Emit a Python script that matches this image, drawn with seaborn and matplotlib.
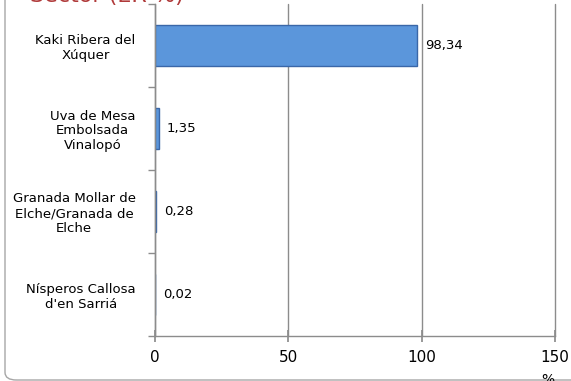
import numpy as np
import pandas as pd
import matplotlib
matplotlib.use('Agg')
import matplotlib.pyplot as plt
import seaborn as sns
from matplotlib.patches import FancyBboxPatch

# data
products = ['Kaki Ribera del\nXúquer',
            'Uva de Mesa\nEmbolsada\nVinalopó',
            'Granada Mollar de\nElche/Granada de\nElche',
            "Nísperos Callosa\nd'en Sarriá"]
shares = [98.34, 1.35, 0.28, 0.02]
share_labels = ['98,34', '1,35', '0,28', '0,02']
x_ticks = [0, 50, 100, 150]

df = pd.DataFrame({'producto': products, 'pct': shares})

sns.set_theme(style='white')
plt.rcParams['font.family'] = ['DejaVu Sans']

BLUE = '#5B96DB'; EDGE = '#3A67A8'; GRID = '#8C8C8C'; RED = '#B03A3A'

fig = plt.figure(figsize=(5.71, 3.81), dpi=100)
ax = fig.add_axes([155 / 571, 1 - 336 / 381, 400 / 571, 332 / 381])

sns.barplot(data=df, x='pct', y='producto', orient='h', color=BLUE,
            width=0.5, saturation=1, edgecolor=EDGE, linewidth=1.0, ax=ax)

ax.set_xlim(0, 150)
ax.set_ylim(3.5, -0.5)
ax.set_xticks(x_ticks)
ax.set_xticklabels([str(t) for t in x_ticks], fontsize=11, color='black')
ax.set_xlabel('')
ax.set_ylabel('')

# category labels centred, boundaries as minor ticks
ax.set_yticks(range(len(products)))
ax.set_yticklabels(products, fontsize=9.5, color='black', multialignment='center')
ax.tick_params(axis='y', which='major', length=0, pad=14)
ax.set_yticks(np.arange(-0.5, len(products), 1.0), minor=True)
ax.tick_params(axis='y', which='minor', length=5, color=GRID, direction='out', left=True)
ax.tick_params(axis='x', length=8, color=GRID, direction='inout', bottom=True, pad=6)

ax.grid(axis='x', color=GRID, linewidth=1.0)
for gl in ax.get_xgridlines():
    gl.set_clip_on(False)
ax.set_axisbelow(True)
for s in ['top', 'right']:
    ax.spines[s].set_visible(False)
for s in ['left', 'bottom']:
    ax.spines[s].set_color(GRID)
    ax.spines[s].set_linewidth(1.0)

for i, (v, lab) in enumerate(zip(shares, share_labels)):
    ax.text(v + 3, i, lab, va='center', ha='left', fontsize=9.5, color='black')

# chart frame and cropped title / axis label
frame = FancyBboxPatch((5 / 571, 1 / 381), 1.1, 1.1,
                       boxstyle='round,pad=0,rounding_size=0.02',
                       transform=fig.transFigure, facecolor='none',
                       edgecolor='#A6A6A6', linewidth=1.0, clip_on=False)
fig.patches.append(frame)
fig.text(30 / 571, 1 - 2 / 381, 'Sector (ER %)', fontsize=16, color=RED,
         va='baseline', ha='left')
fig.text(548 / 571, 1 - 384 / 381, '%', fontsize=10, color='black',
         va='baseline', ha='center')

fig.savefig('out.png', dpi=100, facecolor='white')
